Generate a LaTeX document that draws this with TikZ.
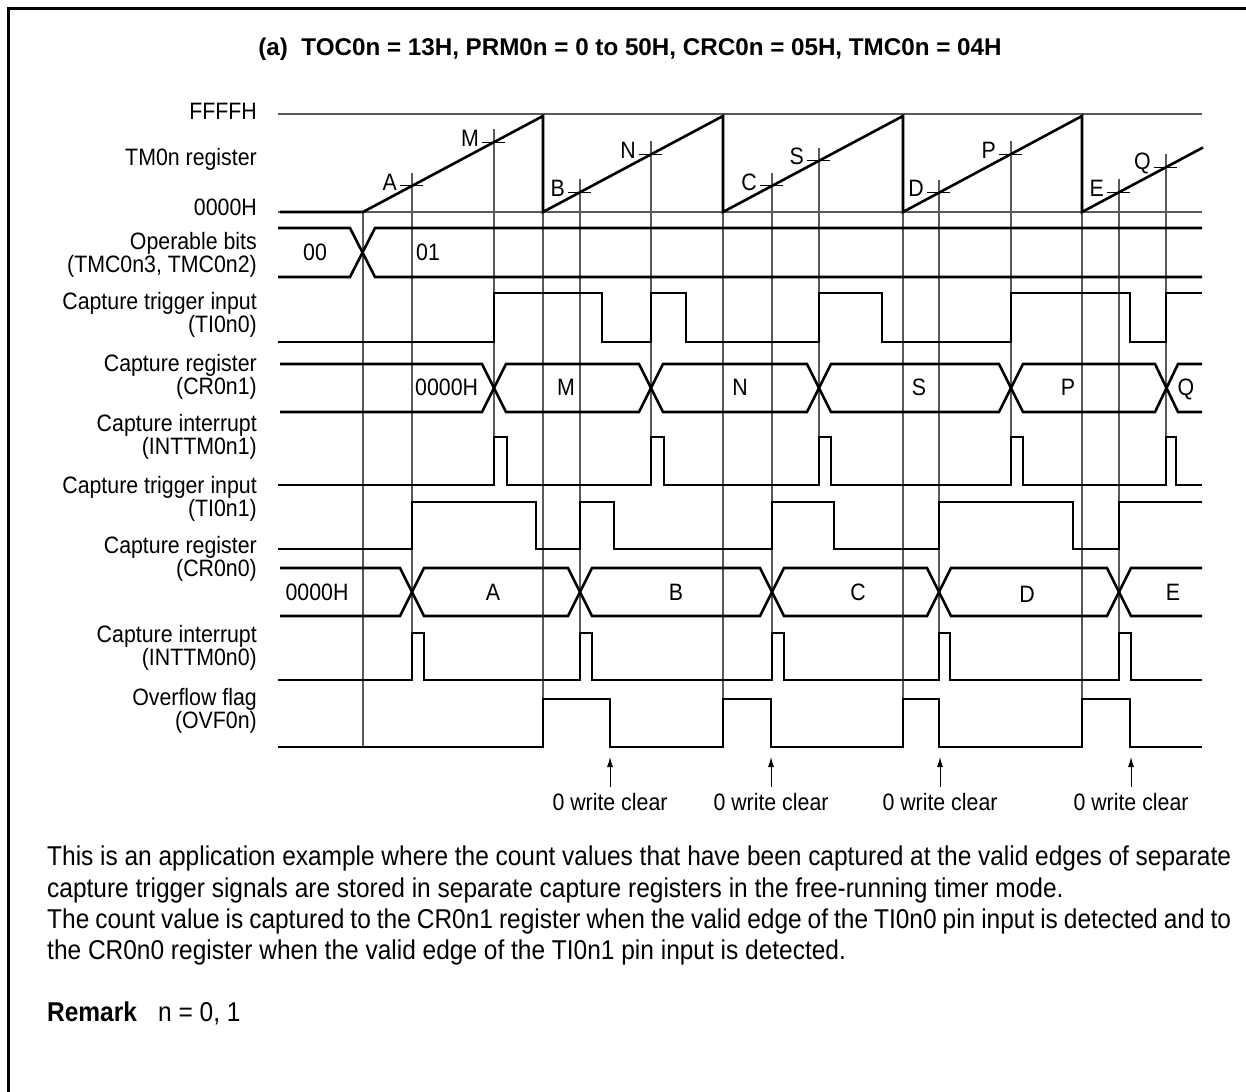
\documentclass[tikz,border=0pt]{standalone}
\usepackage{fontspec}
\setmainfont{Liberation Sans}[FakeStretch=0.9]
\newfontfamily\ttlfamily{Liberation Sans}
\usetikzlibrary{arrows.meta}
\newcommand\lblfont{\fontsize{23.7}{28}\selectfont}
\newcommand\parafont{\fontsize{27.2}{32}\selectfont}
\newcommand\ttlfont{\ttlfamily\bfseries\fontsize{24.2}{29}\selectfont}
\begin{document}
\begin{tikzpicture}[x=1pt,y=-1pt,
  sig/.style={line width=2.6pt, line join=miter},
  grid/.style={line width=1.1pt, black!65},
  tick/.style={line width=1.1pt, black},
  lbl/.style={font=\lblfont, inner sep=0pt},
  para/.style={font=\parafont, inner sep=0pt},
  arr/.style={line width=1pt, -{Latex[length=10pt,width=6pt]}}]
\fill[white] (0,0) rectangle (1246,1091);
\useasboundingbox (0,0) rectangle (1246,1091);
% frame
\draw[line width=3pt] (8.5,1095) -- (8.5,8.5) -- (1250,8.5);
% title
\node[inner sep=0pt, font=\ttlfont, anchor=base] (title) at (630,56) {(a)\ \ TOC0n = 13H, PRM0n = 0 to 50H, CRC0n = 05H, TMC0n = 04H};
% left labels
\node[lbl, anchor=base east] (lF) at (257,120) {FFFFH};
\node[lbl, anchor=base east] (lT) at (257,166) {TM0n register};
\node[lbl, anchor=base east] (lZ) at (257,216) {0000H};
\node[lbl, anchor=base east] (lO1) at (257,249) {Operable bits};
\node[lbl, anchor=base east] (lO2) at (257,272) {(TMC0n3, TMC0n2)};
\node[lbl, anchor=base east] (lA1) at (257,309) {Capture trigger input};
\node[lbl, anchor=base east] (lA2) at (257,332) {(TI0n0)};
\node[lbl, anchor=base east] (lB1) at (257,371) {Capture register};
\node[lbl, anchor=base east] (lB2) at (257,394) {(CR0n1)};
\node[lbl, anchor=base east] (lC1) at (257,431) {Capture interrupt};
\node[lbl, anchor=base east] (lC2) at (257,454) {(INTTM0n1)};
\node[lbl, anchor=base east] (lD1) at (257,493) {Capture trigger input};
\node[lbl, anchor=base east] (lD2) at (257,516) {(TI0n1)};
\node[lbl, anchor=base east] (lE1) at (257,553) {Capture register};
\node[lbl, anchor=base east] (lE2) at (257,576) {(CR0n0)};
\node[lbl, anchor=base east] (lG1) at (257,642) {Capture interrupt};
\node[lbl, anchor=base east] (lG2) at (257,665) {(INTTM0n0)};
\node[lbl, anchor=base east] (lH1) at (257,705) {Overflow flag};
\node[lbl, anchor=base east] (lH2) at (257,728) {(OVF0n)};
% reference lines
\draw[grid] (278,114) -- (1202,114);
\draw[grid] (278,212) -- (1202,212);
% overflow / start verticals
\draw[grid] (363,212) -- (363,747);
\foreach \x in {543,723,903,1082} { \draw[grid] (\x,116) -- (\x,699); }
% capture verticals, ticks, labels
\foreach \x/\yt/\lab/\bot in {412/185.9/A/633, 494/142.1/M/437, 580/192.3/B/633, 651/154.4/N/437, 772/185.9/C/633, 819/160.8/S/437, 939/192.8/D/633, 1011/154.4/P/437, 1119/192.3/E/633, 1166/167.2/Q/437}
{
  \draw[grid] (\x,\yt-13) -- (\x,\bot);
  \draw[tick] (\x-12,\yt) -- (\x+11,\yt);
  \node[lbl, anchor=east] (cap\lab) at (\x-15,\yt-4) {\lab};
}
% counter
\draw[sig] (280,212) -- (363,212) -- (543,116) -- (543,212) -- (723,116) -- (723,212) -- (903,116) -- (903,212) -- (1082,116) -- (1082,212) -- (1203,147.5);
% operable bits
\draw[sig] (278,228) -- (350,228) -- (375,277) -- (1202,277);
\draw[sig] (278,277) -- (350,277) -- (375,228) -- (1202,228);
\node[lbl, anchor=base] (ob0) at (315,260.5) {00};
\node[lbl, anchor=base west] (ob1) at (416,260.5) {01};
% TI0n0
\draw[sig] (278,342) -- (494,342) -- (494,293) -- (602,293) -- (602,342) -- (651,342) -- (651,293) -- (686,293) -- (686,342) -- (819,342) -- (819,293) -- (882,293) -- (882,342) -- (1011,342) -- (1011,293) -- (1130,293) -- (1130,342) -- (1166,342) -- (1166,293) -- (1202,293);
% CR0n1
\draw[sig] (280,364) -- (482,364) -- (506,412) -- (639,412) -- (663,364) -- (807,364) -- (831,412) -- (999,412) -- (1023,364) -- (1155,364) -- (1178,412) -- (1202,412);
\draw[sig] (280,412) -- (482,412) -- (506,364) -- (639,364) -- (663,412) -- (807,412) -- (831,364) -- (999,364) -- (1023,412) -- (1155,412) -- (1178,364) -- (1202,364);
\node[lbl, anchor=base west] (r1a) at (415,395.5) {0000H};
\node[lbl, anchor=base] (r1b) at (566,395.5) {M};
\node[lbl, anchor=base] (r1c) at (740,395.5) {N};
\node[lbl, anchor=base] (r1d) at (919,395.5) {S};
\node[lbl, anchor=base] (r1e) at (1068,395.5) {P};
\node[lbl, anchor=base] (r1f) at (1186,395.5) {Q};
% INTTM0n1
\draw[sig] (278,485) -- (494,485) -- (494,437) -- (507,437) -- (507,485) -- (651,485) -- (651,437) -- (664,437) -- (664,485) -- (819,485) -- (819,437) -- (831,437) -- (831,485) -- (1011,485) -- (1011,437) -- (1023,437) -- (1023,485) -- (1166,485) -- (1166,437) -- (1176,437) -- (1176,485) -- (1202,485);
% TI0n1
\draw[sig] (278,549) -- (412,549) -- (412,502) -- (536,502) -- (536,549) -- (580,549) -- (580,502) -- (614,502) -- (614,549) -- (772,549) -- (772,502) -- (834,502) -- (834,549) -- (939,549) -- (939,502) -- (1073,502) -- (1073,549) -- (1119,549) -- (1119,502) -- (1202,502);
% CR0n0
\draw[sig] (280,568) -- (400,568) -- (424,616) -- (568,616) -- (592,568) -- (760,568) -- (784,616) -- (927,616) -- (951,568) -- (1107,568) -- (1131,616) -- (1202,616);
\draw[sig] (280,616) -- (400,616) -- (424,568) -- (568,568) -- (592,616) -- (760,616) -- (784,568) -- (927,568) -- (951,616) -- (1107,616) -- (1131,568) -- (1202,568);
\node[lbl, anchor=base] (r0a) at (317,600.5) {0000H};
\node[lbl, anchor=base] (r0b) at (493,600.5) {A};
\node[lbl, anchor=base] (r0c) at (676,600.5) {B};
\node[lbl, anchor=base] (r0d) at (858,600.5) {C};
\node[lbl, anchor=base] (r0e) at (1027,602) {D};
\node[lbl, anchor=base] (r0f) at (1173,600.5) {E};
% INTTM0n0
\draw[sig] (278,680) -- (412,680) -- (412,633) -- (424,633) -- (424,680) -- (580,680) -- (580,633) -- (592,633) -- (592,680) -- (772,680) -- (772,633) -- (784,633) -- (784,680) -- (939,680) -- (939,633) -- (950,633) -- (950,680) -- (1119,680) -- (1119,633) -- (1131,633) -- (1131,680) -- (1202,680);
% OVF0n
\draw[sig] (278,747) -- (543,747) -- (543,699) -- (610,699) -- (610,747) -- (723,747) -- (723,699) -- (771,699) -- (771,747) -- (903,747) -- (903,699) -- (939,699) -- (939,747) -- (1082,747) -- (1082,699) -- (1130,699) -- (1130,747) -- (1202,747);
% write clear
\foreach \i/\x in {1/610, 2/771, 3/940, 4/1131}
{
  \coordinate (ar\i) at (\x,757);
  \node[lbl, anchor=base] (wc\i) at (\x,810) {0 write clear};
  \draw[arr] ([yshift=6pt]wc\i.north) -- (ar\i);
}
% paragraph
\node[para, anchor=base west] (p1) at (47,865) {\makebox[1184pt][s]{This is an application example where the count values that have been captured at the valid edges of separate}};
\node[para, anchor=base west] (p2) at (47,897) {capture trigger signals are stored in separate capture registers in the free-running timer mode.};
\node[para, anchor=base west] (p3) at (47,928) {\makebox[1184pt][s]{The count value is captured to the CR0n1 register when the valid edge of the TI0n0 pin input is detected and to}};
\node[para, anchor=base west] (p4) at (47,959) {the CR0n0 register when the valid edge of the TI0n1 pin input is detected.};
\node[para, anchor=base west] (rm) at (47,1021) {\bfseries Remark};
\node[para, anchor=base west] (rmv) at (158,1021) {n = 0, 1};
\end{tikzpicture}
\end{document}
